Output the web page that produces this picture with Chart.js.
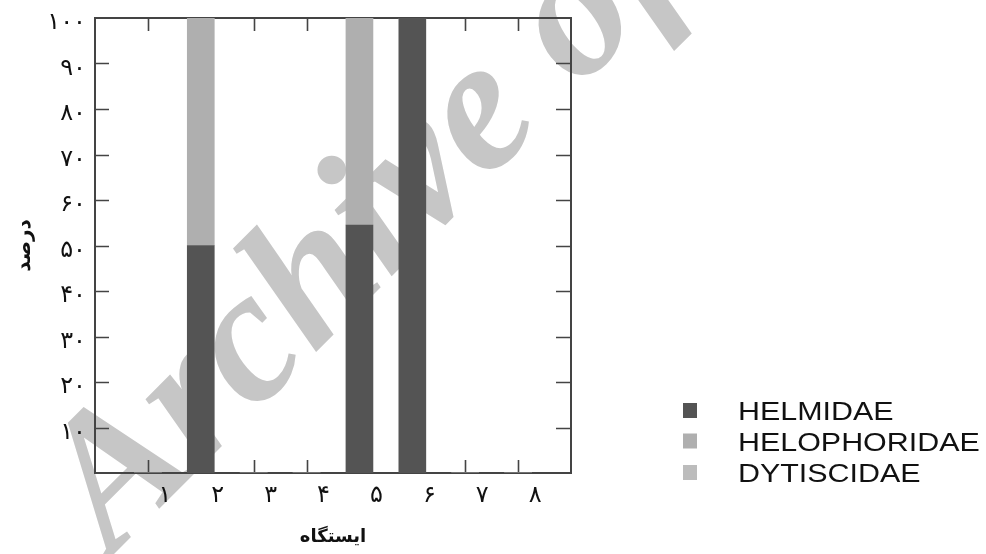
<!DOCTYPE html>
<html><head><meta charset="utf-8">
<script src="https://cdn.jsdelivr.net/npm/chart.js@4.4.0/dist/chart.umd.min.js"></script>
<style>html,body{margin:0;padding:0;background:#fff;}#wrap{width:986px;height:554px;position:relative;}</style>
</head><body><div id="wrap"><canvas id="c" width="986" height="554"></canvas></div>
<script>
const stations = ['۱','۲','۳','۴','۵','۶','۷','۸'];
const helmidae = [0, 50, 0, 0, 54.5, 100, 0, 0];
const helophoridae = [0, 50, 0, 0, 45.5, 0, 0, 0];
const dytiscidae = [0, 0, 0, 0, 0, 0, 0, 0];
const seriesNames = ['HELMIDAE', 'HELOPHORIDAE', 'DYTISCIDAE'];
const seriesColors = ['#545454', '#afafaf', '#bcbcbc'];
const yTickValues = [10, 20, 30, 40, 50, 60, 70, 80, 90, 100];
const yTickLabels = ['۱۰','۲۰','۳۰','۴۰','۵۰','۶۰','۷۰','۸۰','۹۰','۱۰۰'];
const yTitle = 'درصد';
const xTitle = 'ایستگاه';
const watermarkText = 'Archive of SID';

const axisLabels = [''].concat(stations, ['']);
const pad = arr => [null].concat(arr, [null]);
const seriesData = [helmidae, helophoridae, dytiscidae];

const framePlugin = {
  id: 'frame',
  beforeDraw(chart) {
    const ctx = chart.ctx;
    ctx.save();
    ctx.translate(112, 556);
    ctx.rotate(-Math.PI / 4);
    ctx.font = 'italic bold 190px "Liberation Serif"';
    ctx.fillStyle = '#c6c6c6';
    ctx.textBaseline = 'alphabetic';
    ctx.fillText(watermarkText, 0, 0);
    ctx.restore();
  },
  beforeDatasetsDraw(chart) {
    const ctx = chart.ctx;
    const a = chart.chartArea;
    const xs = chart.scales.x, ys = chart.scales.y;
    ctx.save();
    ctx.strokeStyle = '#444';
    ctx.lineWidth = 2;
    ctx.strokeRect(a.left, a.top, a.right - a.left, a.bottom - a.top);
    ctx.beginPath();
    for (let i = 1; i <= stations.length; i++) {
      const px = Math.round(xs.getPixelForValue(i)) + 0.5;
      ctx.moveTo(px, a.bottom); ctx.lineTo(px, a.bottom - 13);
      ctx.moveTo(px, a.top); ctx.lineTo(px, a.top + 13);
    }
    yTickValues.forEach(v => {
      if (v >= 100) return;
      const py = Math.round(ys.getPixelForValue(v)) + 0.5;
      ctx.moveTo(a.left, py); ctx.lineTo(a.left + 14, py);
      ctx.moveTo(a.right, py); ctx.lineTo(a.right - 15, py);
    });
    ctx.lineWidth = 1.6;
    ctx.stroke();
    ctx.restore();
  },
  afterDraw(chart) {
    const ctx = chart.ctx;
    const rows = [410.5, 441, 472.5];
    ctx.save();
    chart.data.datasets.forEach((ds, i) => {
      ctx.fillStyle = ds.backgroundColor;
      ctx.fillRect(683, rows[i] - 7.5, 14, 15);
      ctx.save();
      ctx.translate(738, rows[i] + 9.5);
      ctx.scale(1.17, 1);
      ctx.font = '26px "Liberation Sans"';
      ctx.fillStyle = '#111';
      ctx.textBaseline = 'alphabetic';
      ctx.textAlign = 'left';
      ctx.fillText(ds.label, 0, 0);
      ctx.restore();
    });
    ctx.restore();
  }
};

new Chart(document.getElementById('c'), {
  type: 'bar',
  data: {
    labels: axisLabels,
    datasets: seriesNames.map((n, i) => ({
      label: n,
      data: pad(seriesData[i]),
      backgroundColor: seriesColors[i],
      borderWidth: 0,
      barThickness: 27,
      stack: 's'
    }))
  },
  options: {
    responsive: false,
    animation: false,
    devicePixelRatio: 1,
    layout: { padding: { left: 0, right: 415, top: 18, bottom: 0 } },
    plugins: { legend: { display: false }, tooltip: { enabled: false } },
    scales: {
      x: {
        type: 'category',
        offset: false,
        stacked: true,
        grid: { display: false, drawTicks: false },
        border: { display: false },
        ticks: {
          autoSkip: false, maxRotation: 0, minRotation: 0,
          labelOffset: 17, padding: 8,
          font: { family: '"DejaVu Sans"', size: 24 }, color: '#111',
          callback: (v, i) => axisLabels[i]
        },
        title: { display: true, text: xTitle, color: '#111',
          font: { family: '"DejaVu Sans"', size: 18, weight: 'bold' },
          padding: { top: 0, bottom: 6 } },
        afterFit: s => { s.height = 81; s.paddingLeft = 0; s.paddingRight = 0; }
      },
      y: {
        min: 0, max: 100, stacked: true,
        grid: { display: false, drawTicks: false },
        border: { display: false },
        afterBuildTicks: s => { s.ticks = yTickValues.map(v => ({ value: v })); },
        ticks: {
          padding: 9, labelOffset: 5,
          font: { family: '"DejaVu Sans"', size: 24 }, color: '#111',
          callback: v => yTickLabels[yTickValues.indexOf(v)]
        },
        title: { display: true, text: yTitle, color: '#111',
          font: { family: '"DejaVu Sans"', size: 20, weight: 'bold' },
          padding: { top: 13, bottom: 0 } },
        afterFit: s => { s.width = 95; s.paddingTop = 0; s.paddingBottom = 0; }
      }
    }
  },
  plugins: [framePlugin]
});
</script></body></html>
